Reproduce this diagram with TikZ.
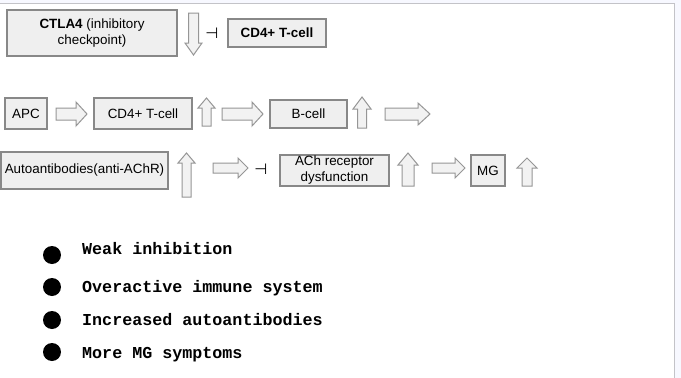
\documentclass[tikz,border=0pt]{standalone}
\usepackage{fontspec}
\setmainfont{Liberation Sans}
\newfontfamily\monofnt{Liberation Mono}
\newfontfamily\symfnt{DejaVu Sans}
\definecolor{bgout}{RGB}{247,248,255}
\definecolor{frameline}{RGB}{195,195,200}
\definecolor{boxfill}{RGB}{239,239,239}
\definecolor{boxline}{RGB}{136,136,136}
\definecolor{arrfill}{RGB}{242,242,242}
\definecolor{arrline}{RGB}{150,150,150}
\newcommand\rblock[6]{\draw[blockarr] (#1,#3-#4) -- (#2-#6,#3-#4) -- (#2-#6,#3-#5) -- (#2,#3) -- (#2-#6,#3+#5) -- (#2-#6,#3+#4) -- (#1,#3+#4) -- cycle;}
\newcommand\ublock[6]{\draw[blockarr] (#1-#4,#3) -- (#1-#4,#2+#6) -- (#1-#5,#2+#6) -- (#1,#2) -- (#1+#5,#2+#6) -- (#1+#4,#2+#6) -- (#1+#4,#3) -- cycle;}
\newcommand\dblock[6]{\draw[blockarr] (#1-#4,#2) -- (#1-#4,#3-#6) -- (#1-#5,#3-#6) -- (#1,#3) -- (#1+#5,#3-#6) -- (#1+#4,#3-#6) -- (#1+#4,#2) -- cycle;}
\begin{document}
\begin{tikzpicture}[x=1pt,y=-1pt,
  cellbox/.style={draw=boxline, fill=boxfill, line width=1.2pt, inner sep=0pt, font=\fontsize{13.4}{16.5}\selectfont, align=center},
  blockarr/.style={draw=arrline, fill=arrfill, line width=1pt, line join=miter},
  bullettext/.style={anchor=base west, font=\monofnt\bfseries\fontsize{16.7}{20}\selectfont, inner sep=0pt},
  bulletdot/.style={circle, fill=black, inner sep=0pt, minimum size=18pt},
  inhib/.style={font=\symfnt\fontsize{15}{15}\selectfont, inner sep=0pt}]
\useasboundingbox (0,0) rectangle (681,378);
\fill[bgout] (0,0) rectangle (681,378);
\fill[white] (0,3.5) rectangle (674,378);
\draw[frameline, line width=1pt] (0,3.5) -- (674,3.5) -- (674,378);

% row 1
\node[cellbox, minimum width=170pt, minimum height=46pt] (ctla) at (92,33) {\textbf{CTLA4} (inhibitory\\checkpoint)};
\dblock{193.5}{13}{55}{5}{8.5}{12}
\node[inhib] (inh1) at (212,33) {⊣};
\node[cellbox, minimum width=98pt, minimum height=28pt, font=\bfseries\fontsize{13.4}{16.5}\selectfont] (cdtop) at (277,33) {CD4+ T-cell};

% row 2
\node[cellbox, minimum width=42pt, minimum height=31pt] (apc) at (26,113.5) {APC};
\rblock{56}{87}{114}{6}{12}{11}
\node[cellbox, minimum width=98pt, minimum height=31pt] (cd2) at (143,113.5) {CD4+ T-cell};
\ublock{206.5}{98}{126}{4.5}{8.5}{10}
\rblock{222}{263}{114}{6}{12}{11}
\node[cellbox, minimum width=77pt, minimum height=28pt] (bcell) at (308.5,114) {B-cell};
\ublock{362}{97}{128}{4.5}{9}{12}
\rblock{385}{430}{114}{6}{11}{12}

% row 3
\node[cellbox, minimum width=167pt, minimum height=37pt] (auto) at (84.5,170.5) {Autoantibodies(anti-AChR)};
\ublock{186.5}{153}{197}{4.5}{8.5}{10}
\rblock{213}{248}{168}{5}{10}{10}
\node[inhib] (inh2) at (261,169) {⊣};
\node[cellbox, minimum width=109pt, minimum height=31pt, font=\fontsize{13.4}{16}\selectfont] (ach) at (334.5,170.5) {ACh receptor\\dysfunction};
\ublock{408}{153}{186}{6}{10}{12}
\rblock{432}{465}{168}{5}{10}{10}
\node[cellbox, minimum width=34pt, minimum height=31pt] (mg) at (488,170.5) {MG};
\ublock{527}{158}{186}{5}{10}{10}

% bullets
\node[bulletdot] (b1) at (52,255) {};
\node[bulletdot] (b2) at (52,287) {};
\node[bulletdot] (b3) at (52,320) {};
\node[bulletdot] (b4) at (52,352) {};
\node[bullettext] (t1) at (82,254) {Weak inhibition};
\node[bullettext] (t2) at (82,292) {Overactive immune system};
\node[bullettext] (t3) at (82,325) {Increased autoantibodies};
\node[bullettext] (t4) at (82,358) {More MG symptoms};
\end{tikzpicture}
\end{document}
